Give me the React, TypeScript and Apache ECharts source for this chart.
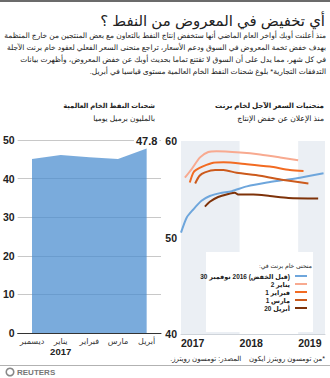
import React, { useEffect, useRef } from "react";
import * as echarts from "echarts";

const FONT = '"Liberation Sans", "DejaVu Sans", Arial, sans-serif';
const rtl = (s: string) => "\u202B" + s + "\u202C";

// ---- text ----
const mainTitle = "أي تخفيض في المعروض من النفط ؟";
const bodyLines = [
  "منذ أعلنت أوبك أواخر العام الماضي أنها ستخفض إنتاج النفط بالتعاون مع بعض المنتجين من خارج المنظمة",
  "بهدف خفض تخمة المعروض في السوق ودعم الأسعار، تراجع منحنى السعر الفعلي لعقود خام برنت الآجلة",
  "في كل شهر، مما يدل على أن السوق لا تقتنع تماما بحديث أوبك عن خفض المعروض، وأظهرت بيانات",
  "التدفقات التجارية* بلوغ شحنات النفط الخام العالمية مستوى قياسيا في أبريل.",
];
const leftTitle = "شحنات النفط الخام العالمية";
const leftSub = "بالمليون برميل يوميا";
const rightTitle = "منحنيات السعر الآجل لخام برنت";
const rightSub = "منذ الإعلان عن خفض الإنتاج";
const legendTitle = "منحنى خام برنت في:";
const sourceA = "المصدر: تومسون رويترز.";
const sourceB = "*من تومسون رويترز ايكون";

// ---- left chart: shipments ----
const shipMonths = ["ديسمبر", "يناير", "فبراير", "مارس", "أبريل"];
const shipYear = "2017";
const shipValues = [45.1, 46.1, 45.5, 45.1, 47.8];

// ---- right chart: Brent forward curves (x = months since Jan 2017) ----
const yearLabels = ["2017", "2018", "2019"];
const curveNames = ["30 نوفمبر 2016 (قبل الخفض)", "2 يناير", "1 فبراير", "1 مارس", "20 أبريل"];
const curveColors = ["#6ea6dc", "#f8aa90", "#f26b22", "#cc5a1c", "#7e3209"];
const curveNov30 = [
  [0, 50.5], [1.2, 52.1], [2.5, 52.9], [4.2, 53.8], [5.9, 54.3], [8, 54.6],
  [10.4, 54.8], [13.5, 55.3], [17.6, 55.7], [21, 55.95], [24.4, 56.2], [29.2, 56.65],
];
const curveJan2 = [
  [0.8, 56.2], [2.2, 57.1], [3.9, 58.3], [5.6, 58.86], [7.3, 58.93],
  [12.1, 58.8], [16.2, 58.6], [20.3, 58.3], [24, 58.0],
];
const curveFeb1 = [
  [1.8, 55.7], [2.5, 56.7], [3.1, 57.0], [4.6, 57.4], [6.6, 57.75], [8.7, 57.8],
  [13.5, 57.6], [18.2, 57.35], [22.3, 57.0], [25.1, 56.9],
];
const curveMar1 = [
  [2.9, 55.6], [3.8, 56.4], [4.9, 56.75], [7, 57.0], [8.7, 57.0], [11.4, 56.7],
  [16.2, 56.4], [21, 55.95], [26.1, 55.6],
];
const curveApr20 = [
  [4.9, 53.2], [5.9, 53.7], [7.6, 54.2], [10, 54.55], [11, 54.65], [11.7, 54.45],
  [14.8, 54.45], [18.2, 54.3], [22, 54.1], [28.1, 54.05],
];
const curves = [curveNov30, curveJan2, curveFeb1, curveMar1, curveApr20];
const bandRanges = [[0, 12], [24, 29.5]];

// legend label laid out token by token, left to right (number first)
const legendTokens = (name: string) => {
  const p = name.indexOf("(");
  const head = (p >= 0 ? name.slice(0, p) : name).trim().split(" ");
  const toks = p >= 0 ? [...head, name.slice(p)] : head;
  return toks.map((t) => `{a|${t}}`).join("{a| }");
};

export default function App() {
  const ref = useRef<HTMLDivElement>(null);
  useEffect(() => {
    document.body.style.margin = "0";
    const ctx = document.createElement("canvas").getContext("2d")!;
    const measure = (text: string, size: number, weight = "normal") => {
      ctx.font = `${weight} ${size}px ${FONT}`;
      return ctx.measureText(text).width;
    };
    const fit = (text: string, target: number, weight = "normal") =>
      (20 * target) / measure(text, 20, weight);
    const bodySize = Math.min(...bodyLines.slice(0, 3).map((l) => fit(l, 322)));
    const legendSize = fit(curveNames[0], 90, "bold");
    const srcSize = fit(sourceA + "    " + sourceB, 155);
    const srcBWidth = measure(sourceB, srcSize);
    const srcGap = measure("    ", srcSize);

    const chart = echarts.init(ref.current!, null, { renderer: "svg" });
    const txt = (text: string, x: number, y: number, size: number, extra: any = {}) => ({
      type: "text",
      x,
      y,
      z: 30,
      style: {
        text,
        fontFamily: FONT,
        fontSize: size,
        fill: "#222",
        align: "right",
        verticalAlign: "middle",
        ...extra,
      },
    });
    const option: any = {
      animation: false,
      textStyle: { fontFamily: FONT },
      grid: [
        { left: 16, top: 140, width: 145, height: 193 },
        { left: 181, top: 141, width: 144, height: 193 },
      ],
      xAxis: [
        {
          type: "category",
          gridIndex: 0,
          data: shipMonths,
          boundaryGap: true,
          axisLine: { lineStyle: { color: "#333", width: 1 } },
          axisTick: { show: false },
          axisLabel: {
            margin: 4,
            interval: 0,
            formatter: (v: string) =>
              v === shipMonths[1] ? `{m|${v}}\n{y|${shipYear}}` : `{m|${v}}`,
            rich: {
              m: { fontFamily: FONT, fontSize: 8, color: "#333", lineHeight: 9 },
              y: { fontFamily: FONT, fontSize: 9.5, fontWeight: "bold", color: "#222", lineHeight: 10 },
            },
          },
        },
        {
          type: "value",
          gridIndex: 1,
          min: 0,
          max: 29.5,
          interval: 12,
          axisLine: { show: true, lineStyle: { color: "#cfd4da" } },
          axisTick: { show: false },
          splitLine: { show: false },
          axisLabel: {
            showMaxLabel: false,
            align: "left",
            margin: 3,
            fontFamily: FONT,
            fontSize: 10.5,
            fontWeight: "bold",
            color: "#222",
            formatter: (v: number) => yearLabels[Math.round(v / 12)] ?? "",
          },
        },
      ],
      yAxis: [
        {
          type: "value",
          gridIndex: 0,
          min: 0,
          max: 50,
          interval: 10,
          axisLine: { show: false },
          axisTick: { show: false },
          splitLine: { lineStyle: { color: "#c8c8c8", width: 1 } },
          axisLabel: { margin: 3, fontFamily: FONT, fontSize: 10.5, fontWeight: "bold", color: "#222" },
        },
        {
          type: "value",
          gridIndex: 1,
          min: 40,
          max: 60,
          interval: 10,
          axisLine: { show: false },
          axisTick: { show: false },
          splitLine: { show: false },
          axisLabel: { margin: 4, fontFamily: FONT, fontSize: 10.5, fontWeight: "bold", color: "#222" },
        },
      ],
      legend: {
        data: curveNames,
        formatter: (n: string) => legendTokens(n),
        orient: "vertical",
        right: 18,
        top: 268,
        align: "right",
        icon: "rect",
        itemWidth: 12,
        itemHeight: 2,
        itemGap: 2,
        selectedMode: false,
        z: 40,
        textStyle: {
          fontFamily: FONT,
          fontSize: legendSize,
          fontWeight: "bold",
          color: "#222",
          rich: { a: { fontFamily: FONT, fontSize: legendSize, fontWeight: "bold", color: "#222" } },
        },
      },
      series: [
        {
          type: "line",
          xAxisIndex: 0,
          yAxisIndex: 0,
          data: shipValues.map((v, i) =>
            i === shipValues.length - 1
              ? {
                  value: v,
                  symbol: "circle",
                  symbolSize: 0.01,
                  label: {
                    show: true,
                    position: "top",
                    distance: 2,
                    formatter: "{c}",
                    fontFamily: FONT,
                    fontSize: 11,
                    fontWeight: "bold",
                    color: "#222",
                    backgroundColor: "#fff",
                    padding: [0, 2],
                  },
                }
              : { value: v, symbol: "none" }
          ),
          showSymbol: true,
          symbol: "none",
          lineStyle: { width: 0 },
          itemStyle: { color: "#468ace" },
          areaStyle: { color: "#468ace", opacity: 0.72 },
        },
        ...curves.map((d, i) => ({
          type: "line",
          name: curveNames[i],
          xAxisIndex: 1,
          yAxisIndex: 1,
          data: d,
          smooth: 0.25,
          showSymbol: false,
          symbol: "none",
          z: 3,
          color: curveColors[i],
          lineStyle: { width: 2, color: curveColors[i] },
          itemStyle: { color: curveColors[i] },
          markArea:
            i === 0
              ? {
                  silent: true,
                  itemStyle: { color: "#ebeff4" },
                  data: bandRanges.map((r) => [{ xAxis: r[0] }, { xAxis: r[1] }]),
                }
              : undefined,
        })),
      ],
      graphic: [
        { type: "rect", z: 30, shape: { x: 0, y: 0, width: 330, height: 2 }, style: { fill: "#6b6b6b" } },
        txt(rtl(mainTitle), 325, 20, fit(mainTitle, 225)),
        ...bodyLines.map((l, i) => txt(rtl(l), 326, 35 + i * 12, bodySize)),
        txt(rtl(leftTitle), 155, 105, fit(leftTitle, 92, "bold"), { fontWeight: "bold" }),
        txt(rtl(leftSub), 155, 118, fit(leftSub, 62)),
        txt(rtl(rightTitle), 324, 106, fit(rightTitle, 109, "bold"), { fontWeight: "bold" }),
        txt(rtl(rightSub), 324, 118, fit(rightSub, 87)),
        { type: "rect", z: 25, shape: { x: 206, y: 252, width: 107, height: 80 }, style: { fill: "#fff" } },
        txt(rtl(legendTitle), 312, 265, legendSize * 0.95),
        txt(rtl(sourceB), 325, 358, srcSize),
        txt(rtl(sourceA), 325 - srcBWidth - srcGap, 358, srcSize),
        { type: "rect", z: 30, shape: { x: 0, y: 365, width: 330, height: 0.8 }, style: { fill: "#999" } },
        { type: "ring", z: 30, shape: { cx: 10, cy: 372, r: 4.5, r0: 3 }, style: { fill: "#888" } },
        txt("REUTERS", 17, 372, 8, { align: "left", fontWeight: "bold", fill: "#777" }),
      ],
    };
    chart.setOption(option);
    return () => chart.dispose();
  }, []);
  return <div ref={ref} style={{ width: 330, height: 378 }} />;
}
